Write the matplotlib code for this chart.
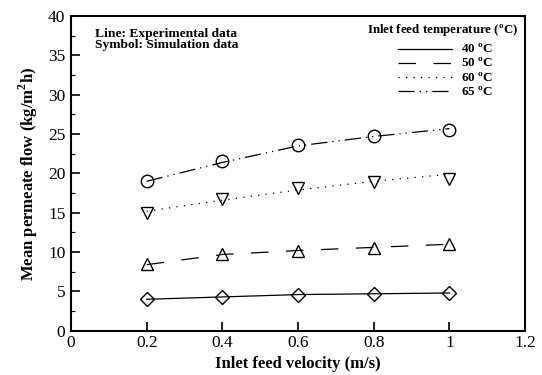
import matplotlib.pyplot as plt
from matplotlib.lines import Line2D

plt.rcParams['font.family'] = 'Liberation Serif'
plt.rcParams['mathtext.fontset'] = 'custom'
plt.rcParams['mathtext.rm'] = 'Liberation Serif:bold'
plt.rcParams['mathtext.bf'] = 'Liberation Serif:bold'

velocity = [0.2, 0.4, 0.6, 0.8, 1.0]
temps = ['40', '50', '60', '65']

# experimental (lines)
exp_40 = [4.0, 4.3, 4.6, 4.7, 4.8]
exp_50 = [8.4, 9.7, 10.2, 10.6, 11.0]
exp_60 = [15.2, 16.6, 17.9, 19.0, 19.9]
exp_65 = [19.0, 21.4, 23.5, 24.7, 25.7]

# simulation (symbols)
sim_40 = [4.0, 4.3, 4.6, 4.7, 4.8]
sim_50 = [8.5, 9.8, 10.2, 10.5, 11.0]
sim_60 = [15.0, 16.8, 18.1, 18.9, 19.3]
sim_65 = [19.1, 21.6, 23.6, 24.7, 25.5]

exp_all = [exp_40, exp_50, exp_60, exp_65]
sim_all = [sim_40, sim_50, sim_60, sim_65]
styles = ['-', (0, (14, 14)), (0, (1, 5)), (0, (13, 4, 1, 4, 1, 4))]
markers = ['D', '^', 'v', 'o']
msizes = [7, 8, 8, 9]

fig = plt.figure(figsize=(5.42, 3.75), dpi=100)
ax = fig.add_axes([0.131, 0.118, 0.838, 0.839])

handles = []
for e, s, ls, m, ms, t in zip(exp_all, sim_all, styles, markers, msizes, temps):
    ax.plot(velocity, e, color='black', lw=0.9, linestyle=ls)
    ax.plot(velocity, s, linestyle='none', marker=m, ms=ms, mfc='none',
            mec='black', mew=1.0)
    handles.append(Line2D([], [], color='black', lw=0.9, linestyle=ls,
                          label=t + r' $^{\rm o}$C'))

ax.set_xlim(0, 1.2)
ax.set_ylim(0, 40)
ax.set_xticks([0, 0.2, 0.4, 0.6, 0.8, 1.0, 1.2])
ax.set_xticklabels(['0', '0.2', '0.4', '0.6', '0.8', '1', '1.2'])
ax.set_yticks(range(0, 41, 5))
ax.set_yticks([y + 2.5 for y in range(0, 40, 5)], minor=True)
ax.tick_params(direction='in', length=6.5, width=1.2, labelsize=12.5)
ax.tick_params(which='minor', direction='in', length=3, width=0.8)
ax.tick_params(axis='x', pad=3)
ax.tick_params(axis='y', pad=4)
for sp in ax.spines.values():
    sp.set_linewidth(1.5)

ax.set_xlabel('Inlet feed velocity (m/s)', fontsize=12, fontweight='bold', labelpad=4)
ax.set_ylabel(r'Mean permeate flow (kg/m$^{\rm 2}$h)', fontsize=12, fontweight='bold',
              labelpad=6)

ax.text(0.053, 0.963, 'Line: Experimental data\nSymbol: Simulation data',
        transform=ax.transAxes, fontsize=9.7, fontweight='bold', va='top',
        linespacing=0.95)

ax.text(0.985, 0.952, r'Inlet feed temperature ($^{\rm o}$C)', transform=ax.transAxes,
        fontsize=9.3, fontweight='bold', ha='right', va='center')

leg = ax.legend(handles=handles, loc='upper right', frameon=False,
                bbox_to_anchor=(0.93, 0.914), borderpad=0, borderaxespad=0,
                handlelength=4.1, fontsize=9.5, labelspacing=0.08,
                handletextpad=0.7)
for txt in leg.get_texts():
    txt.set_fontweight('bold')

fig.savefig('out.png', dpi=100)
